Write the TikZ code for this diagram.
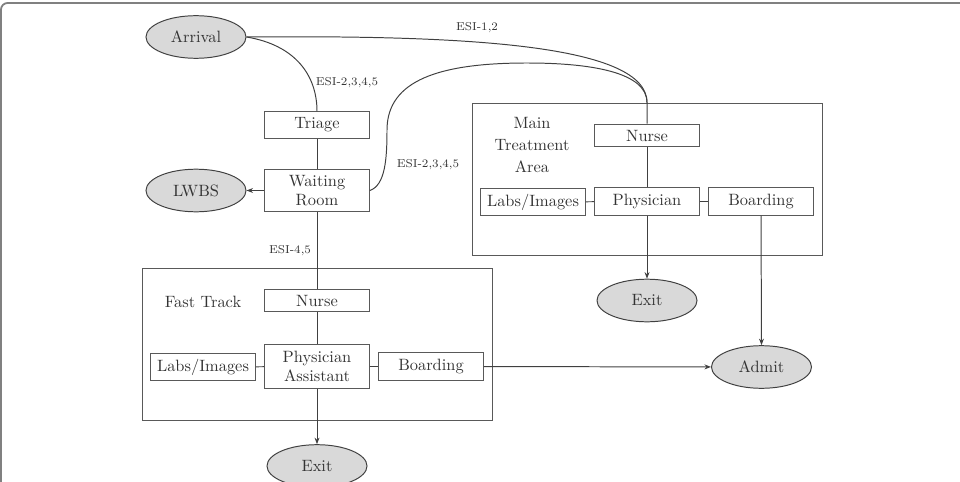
\documentclass[tikz,border=0pt]{standalone}
\usetikzlibrary{arrows.meta,shapes.geometric}
\definecolor{ln}{gray}{0.25}
\definecolor{bx}{gray}{0.35}
\definecolor{el}{gray}{0.85}
\definecolor{tx}{gray}{0.2}
\begin{document}
\begin{tikzpicture}[x=0.61pt,y=-0.61pt,
  every node/.style={text=tx},
  box/.style={draw=bx, line width=0.6pt, minimum width=64pt, minimum height=15.5pt, inner sep=0pt, align=center},
  tallbox/.style={box, minimum height=27pt},
  oval/.style={ellipse, draw=ln, fill=el, line width=0.6pt, minimum width=61pt, minimum height=26pt, inner sep=0pt},
  area/.style={draw=bx, line width=0.6pt, minimum width=213.5pt, minimum height=93.3pt, inner sep=0pt},
  lbl/.style={font=\scriptsize, inner sep=0pt},
  conn/.style={draw=ln, line width=0.6pt},
  arr/.style={conn, -{Stealth[length=4pt,width=3pt]}}]
\useasboundingbox (0,0) rectangle (960,482);
\draw[gray, line width=1.1pt, rounded corners=4pt] (1,500) -- (1,3) -- (980,3);

% areas
\node[area] (mainarea) at (647,179.5) {};
\node[area] (ftarea) at (317,344.5) {};
\node[align=center, font=\linespread{1.12}\selectfont] (maintxt) at (532,145) {Main\\Treatment\\Area};
\node (fttxt) at (203,302) {Fast Track};

% left column
\node[oval] (arrival) at (196,37) {Arrival};
\node[box, minimum height=16pt] (triage) at (317,125) {Triage};
\node[tallbox, minimum height=26pt] (waiting) at (317,190.5) {Waiting\\Room};
\node[oval] (lwbs) at (196,190.5) {LWBS};

% main treatment
\node[box, minimum height=14pt] (mnurse) at (647,135.5) {Nurse};
\node[box, minimum height=16.5pt] (mphys) at (647,201.5) {Physician};
\node[box, minimum height=16.5pt] (mlabs) at (533,202) {Labs/Images};
\node[box, minimum height=16.5pt] (mboard) at (761,201.5) {Boarding};
\node[oval] (mexit) at (647,300.5) {Exit};
\node[oval] (admit) at (761.5,367) {Admit};

% fast track
\node[box, minimum height=14pt] (fnurse) at (317,300.5) {Nurse};
\node[tallbox] (pa) at (317,366.5) {Physician\\Assistant};
\node[box, minimum height=17pt] (flabs) at (203,367) {Labs/Images};
\node[box, minimum height=16.5pt] (fboard) at (431,366.5) {Boarding};
\node[oval] (fexit) at (317,466) {Exit};

\coordinate (merge) at (mnurse.north |- mainarea.north);

% connectors
\draw[conn] (arrival.east) .. controls (295,45) and (317,75) .. (triage.north);
\draw[conn] (arrival.east) .. controls (470,35) and (647,45) .. (merge) -- (mnurse.north);
\draw[conn] (waiting.east) .. controls (385,185) and (387,160) .. (387,130)
  .. controls (387,80) and (440,63) .. (527,63)
  .. controls (590,63) and (647,72) .. (merge);
\draw[conn] (triage) -- (waiting);
\draw[arr] (waiting) -- (lwbs);
\draw[conn] (waiting) -- (fnurse);
\draw[conn] (fnurse) -- (pa);
\draw[conn] (flabs) -- (pa);
\draw[conn] (pa) -- (fboard);
\draw[arr] (pa) -- (fexit);
\draw[arr] (fboard) -- (admit);
\draw[conn] (mnurse) -- (mphys);
\draw[conn] (mlabs) -- (mphys);
\draw[conn] (mphys) -- (mboard);
\draw[arr] (mphys) -- (mexit);
\draw[arr] (mboard.south) -- (admit.north);

% labels
\node[lbl] (l12) at (477,28) {ESI-1,2};
\node[lbl] (l2345a) at (347,83) {ESI-2,3,4,5};
\node[lbl] (l2345b) at (428,165) {ESI-2,3,4,5};
\node[lbl] (l45) at (290,251) {ESI-4,5};
\end{tikzpicture}
\end{document}
